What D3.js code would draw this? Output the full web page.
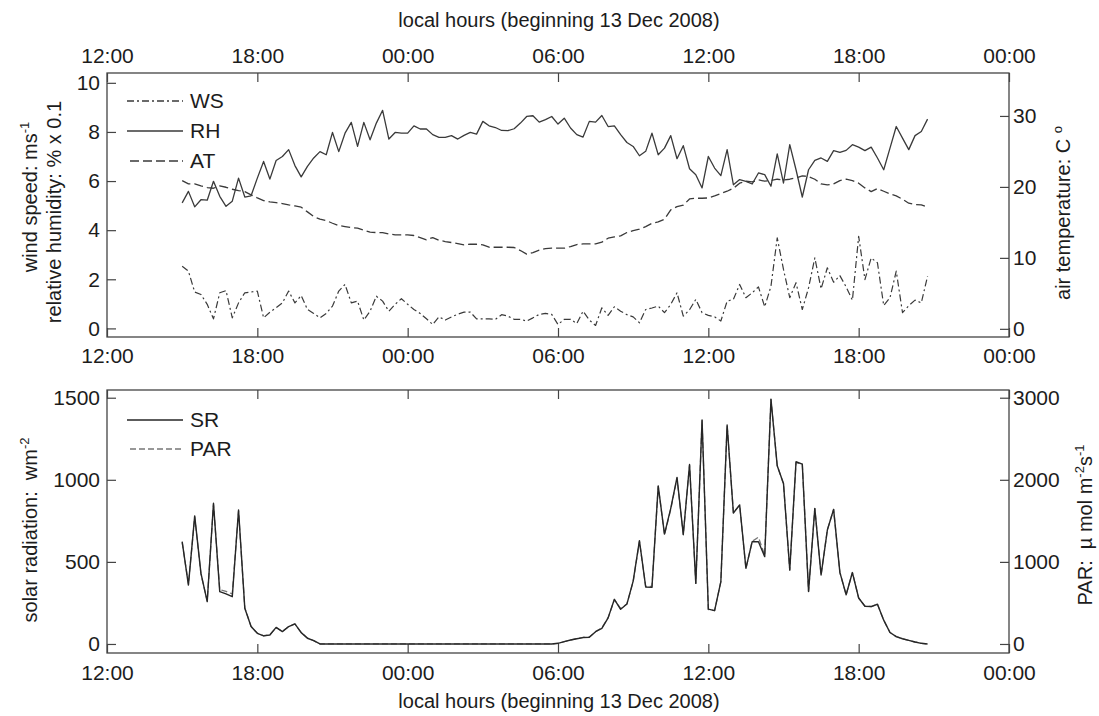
<!DOCTYPE html>
<html>
<head>
<meta charset="utf-8">
<script src="https://cdn.jsdelivr.net/npm/d3@7"></script>
<style>
body { margin: 0; background: #fff; }
svg text { font-family: "Liberation Sans", Arial, Helvetica, sans-serif; fill: #1c1c1c; }
.axis path, .axis line { stroke: #444; stroke-width: 1.2; }
.axis text { font-size: 21px; fill: #1c1c1c; }
</style>
</head>
<body>
<svg id="chart" width="1099" height="716"></svg>
<script>
// 15-minute samples, starting 13 Dec 2008 15:00 local time
const startTime = new Date(2008, 11, 13, 15, 0);
const stepMinutes = 15;

// wind speed, m/s
const windSpeed = [
  2.53, 2.33, 1.48, 1.38, 0.98, 0.39, 1.45, 1.54, 0.43, 1.04, 1.45, 1.48, 1.52, 0.43, 0.66, 0.84, 1.04, 1.52, 1.04, 1.34,
  0.77, 0.61, 0.43, 0.61, 0.91, 1.52, 1.79, 1.04, 1.11, 0.34, 0.70, 1.31, 1.11, 0.70, 0.98, 1.21, 0.98, 0.77, 0.61, 0.39,
  0.16, 0.47, 0.34, 0.47, 0.58, 0.66, 0.66, 0.39, 0.39, 0.39, 0.37, 0.56, 0.50, 0.37, 0.37, 0.30, 0.43, 0.57, 0.61, 0.57,
  0.16, 0.37, 0.37, 0.20, 0.70, 0.34, 0.12, 0.84, 0.53, 0.88, 0.70, 0.56, 0.47, 0.23, 0.77, 0.83, 0.91, 0.64, 0.98, 1.45,
  0.50, 0.76, 1.18, 0.64, 0.53, 0.47, 0.30, 1.11, 1.18, 1.79, 1.25, 1.45, 1.69, 0.88, 1.72, 3.69, 2.40, 1.25, 1.86, 0.77,
  1.65, 2.87, 1.61, 2.47, 1.88, 2.15, 1.69, 1.15, 3.75, 1.99, 2.87, 2.67, 0.93, 1.25, 2.33, 0.64, 0.93, 1.15, 1.04, 2.13
];

// relative humidity, % x 0.1
const relHumidity = [
  5.11, 5.58, 4.95, 5.24, 5.22, 5.99, 5.38, 4.97, 5.18, 6.12, 5.35, 5.40, 6.12, 6.80, 6.08, 6.84, 7.00, 7.28, 6.63, 6.17,
  6.60, 6.94, 7.20, 7.07, 7.98, 7.20, 7.95, 8.39, 7.41, 8.39, 7.68, 8.36, 8.88, 7.71, 7.98, 7.95, 7.95, 8.25, 8.12, 8.12,
  7.89, 7.78, 7.78, 7.85, 7.71, 7.86, 7.98, 7.91, 8.43, 8.25, 8.18, 8.06, 8.05, 8.13, 8.36, 8.63, 8.66, 8.40, 8.50, 8.63,
  8.32, 8.56, 8.16, 7.89, 7.79, 8.43, 8.40, 8.67, 8.22, 8.25, 7.89, 7.57, 7.41, 7.03, 7.21, 7.95, 7.07, 7.34, 7.85, 6.91,
  7.44, 6.50, 6.26, 5.72, 7.00, 6.53, 6.22, 7.28, 5.85, 6.06, 5.99, 5.88, 6.33, 6.26, 5.79, 7.11, 5.92, 7.48, 6.46, 5.35,
  6.46, 6.84, 6.94, 6.80, 7.24, 7.17, 7.25, 7.48, 7.38, 7.24, 7.38, 6.94, 6.46, 7.34, 8.22, 7.75, 7.28, 7.85, 8.02, 8.52
];

// air temperature, degrees C
const airTemp = [
  20.89, 20.42, 20.42, 20.14, 19.91, 19.81, 20.14, 19.95, 19.67, 19.48, 19.34, 18.87, 18.45, 18.08, 17.89, 17.79, 17.65, 17.46, 17.32, 17.14,
  16.48, 15.82, 15.45, 15.26, 14.88, 14.55, 14.41, 14.27, 14.18, 13.90, 13.62, 13.57, 13.57, 13.38, 13.24, 13.24, 13.24, 13.15, 12.86, 12.54,
  12.86, 12.49, 12.30, 12.16, 12.02, 11.83, 11.92, 11.92, 11.83, 11.50, 11.50, 11.50, 11.50, 11.46, 11.03, 10.52, 10.75, 11.08, 11.31, 11.36,
  11.36, 11.36, 11.60, 11.88, 11.97, 11.97, 11.97, 12.21, 12.77, 12.96, 13.10, 13.57, 13.85, 14.04, 14.41, 14.88, 15.07, 15.45, 16.76, 17.23,
  17.42, 18.30, 18.40, 18.40, 18.45, 18.73, 19.06, 19.39, 19.81, 20.52, 20.80, 20.70, 20.99, 20.80, 20.89, 21.08, 20.99, 21.08, 21.27, 21.55,
  21.46, 21.08, 20.42, 20.28, 20.42, 20.89, 21.08, 20.89, 20.52, 19.86, 19.34, 19.77, 19.39, 19.01, 18.73, 18.26, 17.70, 17.51, 17.46, 17.14
];

// solar radiation, W/m2
const solarRad = [
  623, 359, 780, 430, 258, 857, 319, 305, 288, 816, 217, 106, 65, 49, 55, 101, 75, 106, 122, 69,
  35, 20, 0, 0, 0, 0, 0, 0, 0, 0, 0, 0, 0, 0, 0, 0, 0, 0, 0, 0,
  0, 0, 0, 0, 0, 0, 0, 0, 0, 0, 0, 0, 0, 0, 0, 0, 0, 0, 0, 0,
  4, 14, 24, 32, 39, 41, 75, 95, 159, 272, 211, 243, 383, 629, 347, 345, 963, 669, 826, 1015,
  667, 1093, 369, 1364, 212, 203, 380, 1334, 798, 847, 461, 623, 623, 532, 1491, 1085, 978, 451, 1110, 1096,
  320, 826, 420, 694, 820, 436, 300, 435, 280, 230, 228, 242, 145, 70, 45, 32, 22, 12, 4, 0
];

// photosynthetically active radiation, umol m-2 s-1
const parRad = [
  1236, 732, 1548, 850, 526, 1700, 660, 640, 610, 1620, 440, 214, 132, 100, 112, 200, 152, 210, 244, 140,
  72, 40, 0, 0, 0, 0, 0, 0, 0, 0, 0, 0, 0, 0, 0, 0, 0, 0, 0, 0,
  0, 0, 0, 0, 0, 0, 0, 0, 0, 0, 0, 0, 0, 0, 0, 0, 0, 0, 0, 0,
  8, 28, 48, 66, 80, 84, 150, 196, 320, 540, 432, 488, 760, 1250, 700, 700, 1920, 1330, 1640, 2020,
  1330, 2180, 740, 2720, 420, 406, 760, 2660, 1600, 1690, 918, 1250, 1300, 1080, 2980, 2170, 1950, 900, 2210, 2190,
  640, 1650, 840, 1390, 1640, 870, 600, 870, 560, 460, 456, 484, 290, 140, 90, 64, 44, 24, 8, 0
];

const leftTicksTop = [0, 2, 4, 6, 8, 10];
const rightTicksTop = [0, 10, 20, 30];
const leftTicksBottom = [0, 500, 1000, 1500];
const rightTicksBottom = [0, 1000, 2000, 3000];

const times = windSpeed.map((d, i) => new Date(+startTime + i * stepMinutes * 60000));

const svg = d3.select('#chart');
const left = 107, right = 1009;
const top1 = 73, bot1 = 337;
const top2 = 390, bot2 = 653;
const lineColor = '#3a3a3a';

const x = d3.scaleTime()
    .domain([new Date(2008, 11, 13, 12), new Date(2008, 11, 15, 0)])
    .range([left, right]);
const hourTicks = x.ticks(d3.timeHour.every(6));
const fmt = d3.timeFormat('%H:%M');
const numFmt = d3.format('d');

const yWs = d3.scaleLinear().domain([-0.35, 10.4]).range([bot1, top1]);
const yAt = d3.scaleLinear().domain([-1.15, 36.05]).range([bot1, top1]);
const ySr = d3.scaleLinear().domain([-55, 1547]).range([bot2, top2]);
const yPar = d3.scaleLinear().domain([-110, 3094]).range([bot2, top2]);

function xAxis(gen, y, labels, pad) {
    svg.append('g')
        .attr('class', 'axis')
        .attr('transform', `translate(0,${y})`)
        .call(gen(x).tickValues(hourTicks).tickSize(-9).tickSizeOuter(0).tickPadding(pad)
            .tickFormat(labels ? fmt : ''))
        .call(g => g.select('.domain').remove());
}

function yAxes(yL, yR, ticksL, ticksR) {
    svg.append('g')
        .attr('class', 'axis')
        .attr('transform', `translate(${left},0)`)
        .call(d3.axisLeft(yL).tickValues(ticksL).tickSize(-9).tickSizeOuter(0).tickPadding(7).tickFormat(numFmt))
        .call(g => g.select('.domain').remove());
    svg.append('g')
        .attr('class', 'axis')
        .attr('transform', `translate(${right},0)`)
        .call(d3.axisRight(yR).tickValues(ticksR).tickSize(-9).tickSizeOuter(0).tickPadding(4).tickFormat(numFmt))
        .call(g => g.select('.domain').remove());
}

// panel frames
[[top1, bot1], [top2, bot2]].forEach(([t, b]) => {
    svg.append('rect')
        .attr('x', left).attr('y', t)
        .attr('width', right - left).attr('height', b - t)
        .attr('fill', 'none').attr('stroke', '#444').attr('stroke-width', 1.3);
});

// top panel axes
xAxis(d3.axisTop, top1, true, 10);
xAxis(d3.axisBottom, bot1, true, 11);
yAxes(yWs, yAt, leftTicksTop, rightTicksTop);

// bottom panel axes
xAxis(d3.axisTop, top2, false, 10);
xAxis(d3.axisBottom, bot2, true, 12);
yAxes(ySr, yPar, leftTicksBottom, rightTicksBottom);

function drawLine(values, y, dash, width, color) {
    const line = d3.line()
        .x((d, i) => x(times[i]))
        .y(d => y(d));
    svg.append('path')
        .datum(values)
        .attr('d', line)
        .attr('fill', 'none')
        .attr('stroke', color || lineColor)
        .attr('stroke-width', width)
        .attr('stroke-linejoin', 'round')
        .attr('stroke-dasharray', dash);
}

const dashWs = '7,3,2,3';
const dashAt = '9,4';
const dashPar = '6,3';

drawLine(airTemp, yAt, dashAt, 1.3);
drawLine(relHumidity, yWs, null, 1.3);
drawLine(windSpeed, yWs, dashWs, 1.2);

drawLine(parRad, yPar, dashPar, 1.3, '#777');
drawLine(solarRad, ySr, null, 1.4, '#262626');

// legends
function legend(items, x0, y0, gap) {
    items.forEach((it, i) => {
        const yy = y0 + i * gap;
        svg.append('line')
            .attr('x1', x0 + (it.indent || 0)).attr('x2', x0 + 56)
            .attr('y1', yy).attr('y2', yy)
            .attr('stroke', it.color || lineColor)
            .attr('stroke-width', 1.3)
            .attr('stroke-dasharray', it.dash);
        svg.append('text')
            .attr('x', x0 + 63).attr('y', yy + 7)
            .style('font-size', '21px')
            .text(it.name);
    });
}
legend([
    { name: 'WS', dash: dashWs },
    { name: 'RH', dash: null },
    { name: 'AT', dash: dashAt, indent: 3 }
], 127, 101, 30);
legend([
    { name: 'SR', dash: null, color: '#262626' },
    { name: 'PAR', dash: dashPar, indent: 3, color: '#777' }
], 127, 420, 29);

// titles
svg.append('text')
    .attr('x', (left + right) / 2 + 1).attr('y', 27)
    .attr('text-anchor', 'middle')
    .style('font-size', '20px')
    .text('local hours (beginning 13 Dec 2008)');
svg.append('text')
    .attr('x', (left + right) / 2 + 1).attr('y', 708)
    .attr('text-anchor', 'middle')
    .style('font-size', '20px')
    .text('local hours (beginning 13 Dec 2008)');

// rotated axis labels built from pieces: [text, isSuperscript]
function vLabel(cx, cy, parts) {
    const t = svg.append('text')
        .attr('transform', `translate(${cx},${cy}) rotate(-90)`)
        .attr('text-anchor', 'middle')
        .style('font-size', '20px')
        .style('white-space', 'pre');
    let raised = false;
    parts.forEach(([s, sup]) => {
        const sp = t.append('tspan').text(s);
        if (sup && !raised) { sp.attr('dy', -8).style('font-size', '13px'); raised = true; }
        else if (sup) { sp.style('font-size', '13px'); }
        else if (raised) { sp.attr('dy', 8); raised = false; }
    });
}

vLabel(37, 197, [['wind speed: ms', false], ['-1', true]]);
vLabel(61, 212, [['relative humidity: % x 0.1', false]]);
vLabel(1070, 213, [['air temperature: C ', false], ['o', true]]);
vLabel(37, 530, [['solar radiation:  wm', false], ['-2', true]]);
vLabel(1092, 525, [['PAR:  \u00b5 mol m', false], ['-2', true], ['s', false], ['-1', true]]);
</script>
</body>
</html>
